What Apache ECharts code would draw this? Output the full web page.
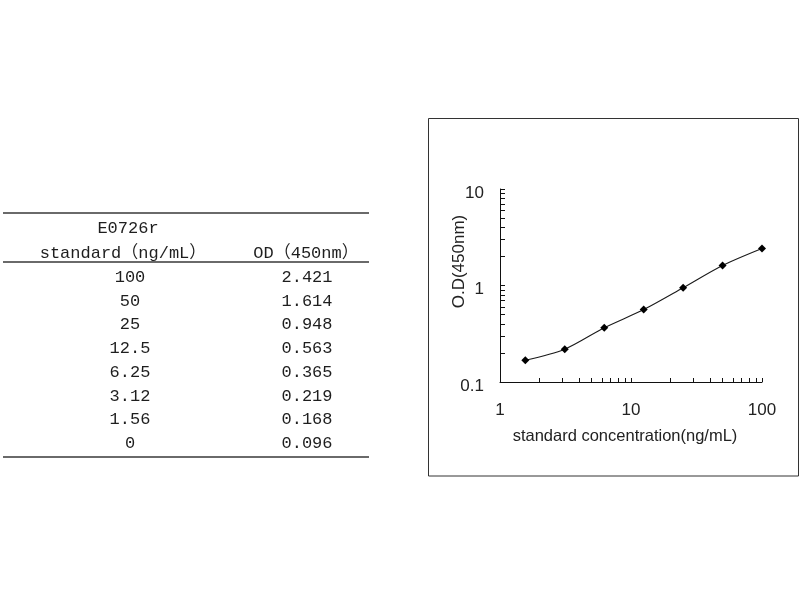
<!DOCTYPE html>
<html>
<head>
<meta charset="utf-8">
<script src="https://cdn.jsdelivr.net/npm/echarts@6/dist/echarts.min.js"></script>
<style>
html,body{margin:0;padding:0;background:#fff;}
#main{width:800px;height:600px;}
</style>
</head>
<body>
<div id="main"></div>
<script>
// ---- data ----
const tableTitle = 'E0726r';
const colHeaders = ['standard（ng/mL）', 'OD（450nm）'];
const concLabels = ['100', '50', '25', '12.5', '6.25', '3.12', '1.56', '0'];
const odLabels = ['2.421', '1.614', '0.948', '0.563', '0.365', '0.219', '0.168', '0.096'];
const xTickLabels = [1, 10, 100];
const yTickLabels = [0.1, 1, 10];
const xAxisName = 'standard concentration(ng/mL)';
const yAxisName = 'O.D(450nm)';

// log tick positions (decades with 2..9 minor)
function logTicks(lo, hi) {
  const out = [];
  for (let d = lo; d < hi - 1e-12; d *= 10) {
    for (let k = 1; k < 10; k++) out.push(+(d * k).toPrecision(6));
  }
  out.push(hi);
  return out;
}

// series points: skip the zero standard (not plottable on log axis)
const points = [];
for (let i = 0; i < concLabels.length; i++) {
  const x = parseFloat(concLabels[i]);
  const y = parseFloat(odLabels[i]);
  if (x > 0) points.push([x, y]);
}
points.sort((a, b) => a[0] - b[0]);

// ---- table graphics ----
const tableFont = '17px "Liberation Mono", "Noto Sans CJK SC", monospace';
const textColor = '#1e1e1e';
const col1X = 130, col2X = 307;
const rowY0 = 277.5, rowStep = 23.7;
const graphics = [];
function hline(y) {
  graphics.push({ type: 'line', shape: { x1: 3, y1: y, x2: 369, y2: y },
    style: { stroke: '#6a6a6a', lineWidth: 2 } });
}
function txt(x, y, s) {
  graphics.push({ type: 'text', x: x, y: y,
    style: { text: s, font: tableFont, fill: textColor, align: 'center', verticalAlign: 'middle' } });
}
hline(213); hline(262); hline(457);
txt(128, 228, tableTitle);
txt(123, 253, colHeaders[0]);
txt(306, 253, colHeaders[1]);
for (let i = 0; i < concLabels.length; i++) {
  txt(col1X, rowY0 + i * rowStep, concLabels[i]);
  txt(col2X, rowY0 + i * rowStep, odLabels[i]);
}
// chart frame
graphics.push({ type: 'rect', shape: { x: 428.5, y: 118.5, width: 370, height: 357.5 },
  style: { fill: 'none', stroke: '#333', lineWidth: 1 } });

const axisFont = 'Arial, "Liberation Sans", sans-serif';
const chart = echarts.init(document.getElementById('main'), null, { renderer: 'canvas' });
chart.setOption({
  animation: false,
  backgroundColor: '#fff',
  grid: { left: 500, top: 189, width: 262, height: 193, containLabel: false },
  xAxis: {
    type: 'log', logBase: 10, min: 1, max: 100,
    name: xAxisName, nameLocation: 'middle', nameGap: 46, nameMoveOverlap: false,
    nameTextStyle: { fontFamily: axisFont, fontSize: 16.5, color: '#222', padding: [0, 12, 0, 0] },
    axisLine: { show: true, onZero: false, lineStyle: { color: '#111', width: 1 } },
    axisTick: { show: true, inside: true, length: 4, customValues: logTicks(1, 100), lineStyle: { color: '#111' } },
    axisLabel: { customValues: xTickLabels, margin: 20, fontFamily: axisFont, fontSize: 17, color: '#222',
      formatter: v => String(v) },
    splitLine: { show: false }, minorTick: { show: false }
  },
  yAxis: {
    type: 'log', logBase: 10, min: 0.1, max: 10,
    name: yAxisName, nameLocation: 'middle', nameGap: 32, nameRotate: 90, nameMoveOverlap: false,
    nameTextStyle: { fontFamily: axisFont, fontSize: 17, color: '#222', padding: [0, 0, 0, 48] },
    axisLine: { show: true, onZero: false, lineStyle: { color: '#111', width: 1 } },
    axisTick: { show: true, inside: true, length: 5, customValues: logTicks(0.1, 10), lineStyle: { color: '#111' } },
    axisLabel: { customValues: yTickLabels, margin: 16, color: '#222',
      formatter: v => '{a|' + v + '}',
      rich: { a: { fontFamily: axisFont, fontSize: 17, color: '#222', padding: [8, 0, 0, 0] } } },
    splitLine: { show: false }, minorTick: { show: false }
  },
  series: [{
    type: 'line', data: points, smooth: 0.3,
    symbol: 'diamond', symbolSize: 8,
    lineStyle: { color: '#1a1a1a', width: 1.1 },
    itemStyle: { color: '#000' }
  }],
  graphic: graphics
});
</script>
</body>
</html>
